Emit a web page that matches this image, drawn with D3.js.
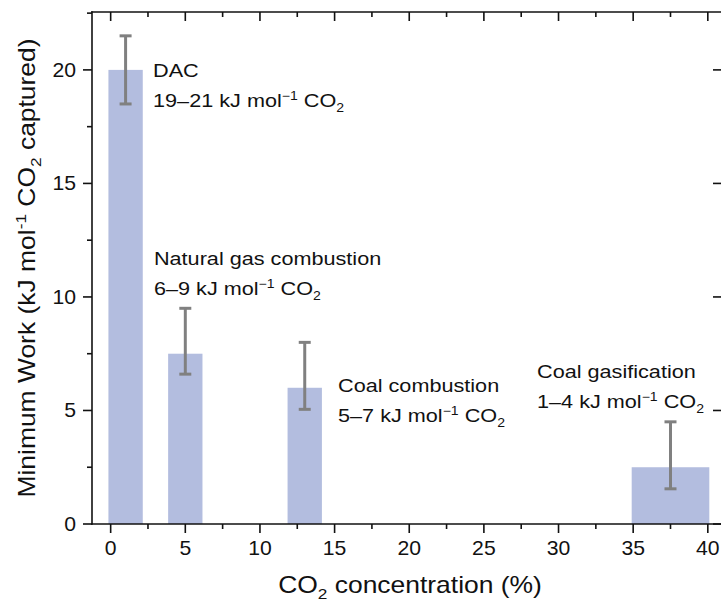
<!DOCTYPE html>
<html><head><meta charset="utf-8">
<script src="https://cdn.jsdelivr.net/npm/d3@7"></script>
<style>body{margin:0;background:#fff}svg{display:block;font-family:"Liberation Sans",Arial,sans-serif}</style>
</head><body><svg id="c" width="721" height="606"></svg>
<script>
const categories = ["DAC", "Natural gas combustion", "Coal combustion", "Coal gasification"];
const ranges = ["19–21", "6–9", "5–7", "1–4"];
const centers = [1, 5, 13, 37.5];
const widths = [2.3, 2.3, 2.3, 5.2];
const values = [20, 7.5, 6, 2.5];
const errLow = [18.5, 6.6, 5.05, 1.55];
const errHigh = [21.5, 9.5, 8, 4.5];
const labelX = [2.84, 2.9, 15.23, 28.56];
const labelY = [19.7, 11.41, 5.81, 6.43];
const xTicks = [0, 5, 10, 15, 20, 25, 30, 35, 40];
const yTicks = [0, 5, 10, 15, 20];

const svg = d3.select("#c");
const L = 92, R = 722, T = 12, B = 524;
const x = d3.scaleLinear().domain([-1.25, 40.95]).range([L, R]);
const y = d3.scaleLinear().domain([0, 22.55]).range([B, T]);
const barColor = "#b3bddf", errColor = "#808080", ink = "#111";

function txt(parent, px, py, size, sx, anchor, rot) {
  return parent.append("text")
    .attr("transform", `translate(${px},${py})` + (rot ? ` rotate(${rot})` : "") + ` scale(${sx},1)`)
    .attr("font-size", size).attr("fill", ink).attr("text-anchor", anchor || "start");
}

// bars
const g = svg.append("g");
categories.forEach((c, i) => {
  const x0 = x(centers[i] - widths[i] / 2), x1 = x(centers[i] + widths[i] / 2);
  g.append("rect")
    .attr("x", x0).attr("width", x1 - x0)
    .attr("y", y(values[i])).attr("height", y(0) - y(values[i]))
    .attr("fill", barColor);
  const cx = x(centers[i]);
  g.append("line").attr("x1", cx).attr("x2", cx).attr("y1", y(errLow[i])).attr("y2", y(errHigh[i]))
    .attr("stroke", errColor).attr("stroke-width", 3);
  [errLow[i], errHigh[i]].forEach(v => {
    g.append("line").attr("x1", cx - 6).attr("x2", cx + 6).attr("y1", y(v)).attr("y2", y(v))
      .attr("stroke", errColor).attr("stroke-width", 3);
  });
  const ax = x(labelX[i]), ay = y(labelY[i]);
  txt(g, ax, ay, 18.5, 1.17).text(c);
  const t2 = txt(g, ax, ay + 30, 18.5, 1.17);
  t2.append("tspan").text(ranges[i] + " kJ mol");
  t2.append("tspan").attr("font-size", 12).attr("dy", -7).text("−1");
  t2.append("tspan").attr("dy", 7).text(" CO");
  t2.append("tspan").attr("font-size", 12).attr("dy", 5).text("2");
});

// axes
const xMinor = d3.range(0, 41, 2.5);
const yMinor = d3.range(0, 22.6, 2.5);
const axG = svg.append("g").attr("stroke", ink).attr("stroke-width", 1.6);
axG.append("line").attr("x1", L).attr("x2", L).attr("y1", T - 0.8).attr("y2", B + 0.8);
axG.append("line").attr("x1", L - 0.8).attr("x2", R).attr("y1", B).attr("y2", B);
axG.append("line").attr("x1", L - 0.8).attr("x2", R).attr("y1", T).attr("y2", T);
axG.append("line").attr("x1", R).attr("x2", R).attr("y1", T).attr("y2", B);

xMinor.forEach(v => {
  const len = v % 5 === 0 ? 9 : 5;
  axG.append("line").attr("x1", x(v)).attr("x2", x(v)).attr("y1", B).attr("y2", B + len);
  axG.append("line").attr("x1", x(v)).attr("x2", x(v)).attr("y1", T).attr("y2", T + len);
});
yMinor.forEach(v => {
  const major = v % 5 === 0;
  const len = major ? 9 : 5;
  axG.append("line").attr("x1", L).attr("x2", L - len).attr("y1", y(v)).attr("y2", y(v));
  if (major) axG.append("line").attr("x1", R).attr("x2", R - len).attr("y1", y(v)).attr("y2", y(v));
});

xTicks.forEach(d => txt(svg, x(d), B + 31, 20, 1.06, "middle").text(d));
yTicks.forEach(d => txt(svg, L - 16, y(d) + 7, 20, 1.06, "end").text(d));

// axis titles
const xt = txt(svg, (L + R) / 2 + 3, 593, 23, 1.15, "middle");
xt.append("tspan").text("CO");
xt.append("tspan").attr("font-size", 15).attr("dy", 6).text("2");
xt.append("tspan").attr("dy", -6).text(" concentration (%)");

const yt = txt(svg, 35, (T + B) / 2, 23, 1.15, "middle", -90);
yt.append("tspan").text("Minimum Work (kJ mol");
yt.append("tspan").attr("font-size", 15).attr("dy", -9).text("-1");
yt.append("tspan").attr("dy", 9).text(" CO");
yt.append("tspan").attr("font-size", 15).attr("dy", 6).text("2");
yt.append("tspan").attr("dy", -6).text(" captured)");
</script></body></html>
